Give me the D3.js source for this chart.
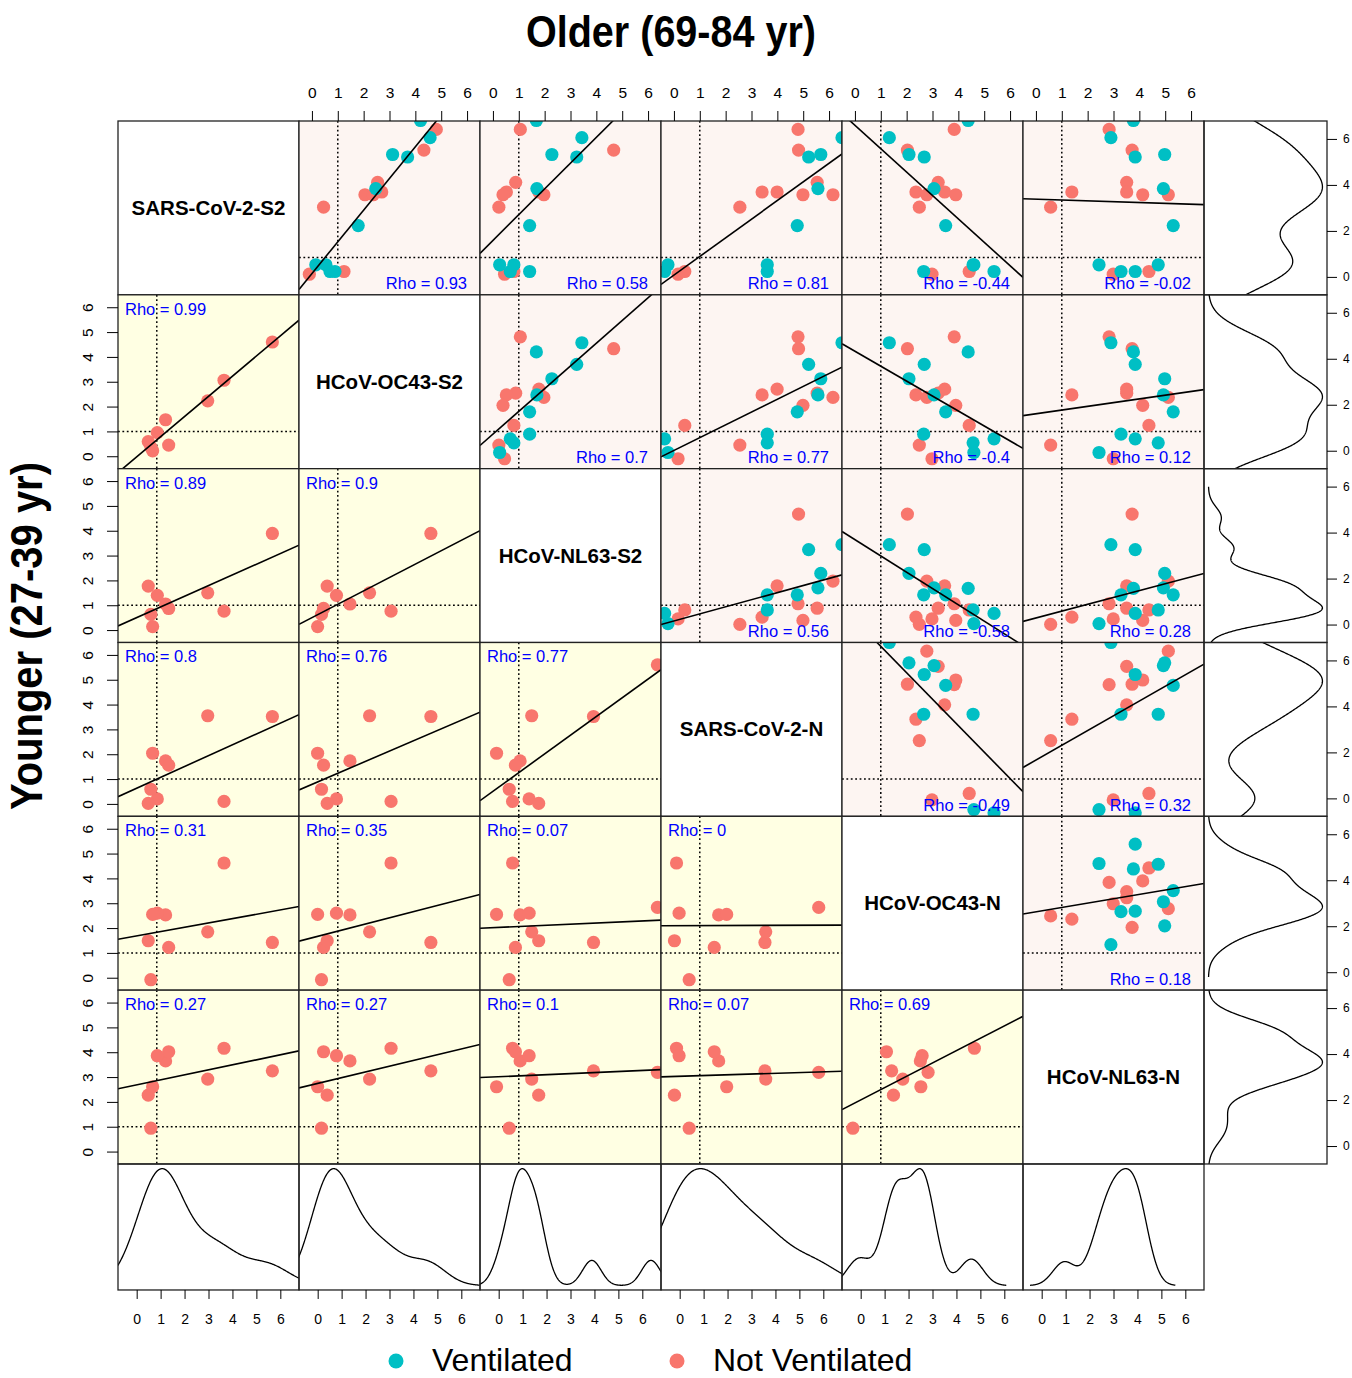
<!DOCTYPE html>
<html>
<head>
<meta charset="utf-8">
<script src="https://cdn.jsdelivr.net/npm/d3@7"></script>
<style>
  body { margin: 0; background: #fff; }
  svg text { font-family: "Liberation Sans", Arial, sans-serif; }
</style>
</head>
<body>
<div id="splom"></div>
<script>
// Variables, in panel order
const variables = ["SARS-CoV-2-S2", "HCoV-OC43-S2", "HCoV-NL63-S2", "SARS-CoV-2-N", "HCoV-OC43-N", "HCoV-NL63-N"];

// Older cohort (69-84 yr), one entry per subject, same subject order in every array
const olderGroup = ["Not Ventilated", "Ventilated", "Ventilated", "Not Ventilated", "Ventilated",
  "Ventilated", "Not Ventilated", "Ventilated", "Not Ventilated", "Not Ventilated",
  "Not Ventilated", "Not Ventilated", "Not Ventilated", "Ventilated", "Ventilated",
  "Ventilated", "Not Ventilated", "Ventilated", "Not Ventilated", "Ventilated"];
const olderSarsS2 = [6.16, 5.83, 6.52, 5.33, 5.05, 5.15, 4.03, 3.78, 3.64, 3.64, 3.53, 3.53, 3.03, 2.29, 0.71, 0.44, 0.33, 0.44, 0.44, 0.71];
const olderOc43S2 = [4.81, 4.57, 4.20, 4.33, 3.70, 3.12, 2.54, 2.47, 2.47, 2.70, 2.05, 2.37, 0.45, 1.79, 0.15, 0.70, -0.10, 0.89, 1.24, 0.54];
const olderNl63S2 = [1.06, 3.44, 1.68, 4.67, 3.24, 2.28, 0.88, 1.70, 0.52, 1.78, 0.39, 1.97, 0.23, 1.42, 0.26, 0.67, 0.45, 1.42, 0.81, 0.81];
const olderSarsN  = [4.80, 6.50, 7.00, 4.82, 5.21, 5.68, 5.54, 5.57, 3.41, 3.99, 4.99, 6.15, 2.55, 4.77, -0.23, -0.36, 0.16, 3.61, 0.42, 3.61];
const olderOc43N  = [3.84, 1.33, 4.38, 2.03, 2.68, 2.09, 3.22, 3.06, 2.36, 3.47, 3.90, 2.78, 2.49, 3.51, 4.60, 5.38, 2.98, 2.66, 4.42, 4.57];
const olderNl63N  = [2.83, 2.90, 3.77, 3.72, 3.84, 4.98, 3.51, 4.93, 1.39, 3.51, 4.13, 5.12, 0.57, 5.31, 2.44, 3.84, 2.99, 3.29, 4.37, 4.73];

// Younger cohort (27-39 yr), all not ventilated; null = not measured
const youngerSarsS2 = [5.47, 3.60, 2.97, 1.34, 1.46, 1.02, 0.67, 0.84, 0.77, null];
const youngerOc43S2 = [4.60, 3.06, 2.23, 1.47, 0.45, 0.95, 0.59, 0.22, 0.37, null];
const youngerNl63S2 = [3.89, 0.76, 1.50, 1.05, 0.87, 1.40, 1.77, 0.14, 0.63, 6.36];
const youngerSarsN  = [3.52, 0.10, 3.55, 1.73, 1.56, 0.20, 0.02, 2.04, 0.59, 5.60];
const youngerOc43N  = [1.42, 4.62, 1.85, 2.53, 1.22, 2.60, 1.49, 2.55, -0.08, 2.83];
const youngerNl63N  = [3.25, 4.16, 2.92, 3.65, 4.02, 3.86, 2.27, 2.61, 0.94, 3.19];

// Spearman rho printed in each panel [row][col]; upper = older, lower = younger
const rhoText = [
  [null, "0.93", "0.58", "0.81", "-0.44", "-0.02"],
  ["0.99", null, "0.7", "0.77", "-0.4", "0.12"],
  ["0.89", "0.9", null, "0.56", "-0.58", "0.28"],
  ["0.8", "0.76", "0.77", null, "-0.49", "0.32"],
  ["0.31", "0.35", "0.07", "0", null, "0.18"],
  ["0.27", "0.27", "0.1", "0.07", "0.69", null]
];

const axisTicks = [0, 1, 2, 3, 4, 5, 6];
const densityTicks = [0, 2, 4, 6];
const cutoff = 1;

const older = [olderSarsS2, olderOc43S2, olderNl63S2, olderSarsN, olderOc43N, olderNl63N];
const younger = [youngerSarsS2, youngerOc43S2, youngerNl63S2, youngerSarsN, youngerOc43N, youngerNl63N];
const groupColor = { "Ventilated": "#00BFC4", "Not Ventilated": "#F8766D" };

// Layout
const grid = { left: 118, top: 121, cellW: 181, cellH: 173.83 };
const densW = 123, densH = 126;
const n = variables.length;
const intFmt = d3.format("d");

const svg = d3.select("#splom").append("svg")
  .attr("width", 1352)
  .attr("height", 1378);

const xScatter = d3.scaleLinear().domain([-0.5, 6.5]).range([0, grid.cellW]);
const yScatter = d3.scaleLinear().domain([-0.5, 6.5]).range([grid.cellH, 0]);
const xDens = d3.scaleLinear().domain([-0.78, 6.78]).range([0, grid.cellW]);
const yDens = d3.scaleLinear().domain([-0.78, 6.78]).range([grid.cellH, 0]);

// Gaussian kernel density, bandwidth as R's bw.nrd0, grid to 3 bandwidths past the data
function kde(values) {
  const v = values.filter(d => d != null).sort(d3.ascending);
  const m = v.length;
  const spread = Math.min(d3.deviation(v), (d3.quantile(v, 0.75) - d3.quantile(v, 0.25)) / 1.34);
  const bw = 0.9 * spread * Math.pow(m, -0.2);
  const lo = v[0] - 3 * bw, hi = v[m - 1] + 3 * bw;
  return d3.range(512).map(k => {
    const t = lo + (hi - lo) * k / 511;
    return [t, d3.sum(v, xi => Math.exp(-0.5 * ((t - xi) / bw) ** 2)) / (m * bw * Math.sqrt(2 * Math.PI))];
  });
}

// Least squares line on the pairs present
function fitLine(xs, ys) {
  const pts = xs.map((x, k) => [x, ys[k]]).filter(p => p[0] != null && p[1] != null);
  const mx = d3.mean(pts, p => p[0]), my = d3.mean(pts, p => p[1]);
  const slope = d3.sum(pts, p => (p[0] - mx) * (p[1] - my)) / d3.sum(pts, p => (p[0] - mx) ** 2);
  return { slope, intercept: my - slope * mx };
}

function addClip(id, w, h) {
  svg.append("clipPath").attr("id", id)
    .append("rect").attr("width", w).attr("height", h);
}

// Scatter panels
for (let i = 0; i < n; i++) {
  for (let j = 0; j < n; j++) {
    const g = svg.append("g")
      .attr("transform", `translate(${grid.left + j * grid.cellW},${grid.top + i * grid.cellH})`);

    if (i === j) {
      g.append("rect").attr("width", grid.cellW).attr("height", grid.cellH).attr("fill", "#fff");
      g.append("text")
        .attr("x", grid.cellW / 2)
        .attr("y", grid.cellH / 2 + 7)
        .attr("text-anchor", "middle")
        .attr("font-size", 20.5)
        .attr("font-weight", "bold")
        .text(variables[i]);
    } else {
      const upper = i < j;
      const data = upper ? older : younger;
      const clipId = `clip-${i}-${j}`;
      addClip(clipId, grid.cellW, grid.cellH);
      const inner = g.append("g").attr("clip-path", `url(#${clipId})`);

      inner.append("rect")
        .attr("width", grid.cellW).attr("height", grid.cellH)
        .attr("fill", upper ? "#FDF5F2" : "#FFFFE3");

      // cut-off lines
      inner.append("line")
        .attr("x1", xScatter(cutoff)).attr("x2", xScatter(cutoff))
        .attr("y1", 0).attr("y2", grid.cellH)
        .attr("stroke", "#000").attr("stroke-width", 1.5).attr("stroke-dasharray", "1.8,2.6");
      inner.append("line")
        .attr("x1", 0).attr("x2", grid.cellW)
        .attr("y1", yScatter(cutoff)).attr("y2", yScatter(cutoff))
        .attr("stroke", "#000").attr("stroke-width", 1.5).attr("stroke-dasharray", "1.8,2.6");

      const pts = data[j].map((x, k) => ({
        x, y: data[i][k],
        group: upper ? olderGroup[k] : "Not Ventilated"
      })).filter(p => p.x != null && p.y != null)
        .sort((a, b) => d3.ascending(a.group === "Ventilated", b.group === "Ventilated"));

      inner.selectAll("circle")
        .data(pts)
        .join("circle")
        .attr("cx", d => xScatter(d.x))
        .attr("cy", d => yScatter(d.y))
        .attr("r", 6.6)
        .attr("fill", d => groupColor[d.group]);

      const fit = fitLine(data[j], data[i]);
      inner.append("line")
        .attr("x1", xScatter(-0.5)).attr("y1", yScatter(fit.intercept + fit.slope * -0.5))
        .attr("x2", xScatter(6.5)).attr("y2", yScatter(fit.intercept + fit.slope * 6.5))
        .attr("stroke", "#000").attr("stroke-width", 1.6);

      g.append("text")
        .attr("x", upper ? grid.cellW - 13 : 7)
        .attr("y", upper ? grid.cellH - 5.5 : 20)
        .attr("text-anchor", upper ? "end" : "start")
        .attr("font-size", 16.5)
        .attr("fill", "#0000FF")
        .text(`Rho = ${rhoText[i][j]}`);
    }

    g.append("rect")
      .attr("width", grid.cellW).attr("height", grid.cellH)
      .attr("fill", "none").attr("stroke", "#222").attr("stroke-width", 1.3);
  }
}

// Bottom densities (younger), one per column
for (let j = 0; j < n; j++) {
  const curve = kde(younger[j]);
  const [dmin, dmax] = d3.extent(curve, d => d[1]);
  const pad = (dmax - dmin) * 0.04;
  const yd = d3.scaleLinear().domain([dmin - pad, dmax + pad]).range([densH, 0]);
  const g = svg.append("g")
    .attr("transform", `translate(${grid.left + j * grid.cellW},${grid.top + n * grid.cellH})`);
  const clipId = `clip-bottom-${j}`;
  addClip(clipId, grid.cellW, densH);
  g.append("path")
    .datum(curve)
    .attr("clip-path", `url(#${clipId})`)
    .attr("fill", "none").attr("stroke", "#000").attr("stroke-width", 1.3)
    .attr("d", d3.line().x(d => xDens(d[0])).y(d => yd(d[1])));
  g.append("rect")
    .attr("width", grid.cellW).attr("height", densH)
    .attr("fill", "none").attr("stroke", "#222").attr("stroke-width", 1.3);

  g.append("g")
    .attr("transform", `translate(0,${densH})`)
    .call(d3.axisBottom(xDens).tickValues(axisTicks).tickFormat(intFmt).tickSize(9).tickPadding(15).tickSizeOuter(0))
    .call(a => a.select(".domain").remove())
    .call(a => a.selectAll("text").attr("font-size", 14).attr("font-family", null));
}

// Right densities (older), one per row
for (let i = 0; i < n; i++) {
  const curve = kde(older[i]);
  const [dmin, dmax] = d3.extent(curve, d => d[1]);
  const pad = (dmax - dmin) * 0.04;
  const xd = d3.scaleLinear().domain([dmin - pad, dmax + pad]).range([0, densW]);
  const g = svg.append("g")
    .attr("transform", `translate(${grid.left + n * grid.cellW},${grid.top + i * grid.cellH})`);
  const clipId = `clip-right-${i}`;
  addClip(clipId, densW, grid.cellH);
  g.append("path")
    .datum(curve)
    .attr("clip-path", `url(#${clipId})`)
    .attr("fill", "none").attr("stroke", "#000").attr("stroke-width", 1.3)
    .attr("d", d3.line().x(d => xd(d[1])).y(d => yDens(d[0])));
  g.append("rect")
    .attr("width", densW).attr("height", grid.cellH)
    .attr("fill", "none").attr("stroke", "#222").attr("stroke-width", 1.3);

  g.append("g")
    .attr("transform", `translate(${densW},0)`)
    .call(d3.axisRight(yDens).tickValues(densityTicks).tickFormat(intFmt).tickSize(10).tickPadding(6).tickSizeOuter(0))
    .call(a => a.select(".domain").remove())
    .call(a => a.selectAll("text").attr("font-size", 12).attr("font-family", null));
}

// Top axes (older columns)
for (let j = 1; j < n; j++) {
  svg.append("g")
    .attr("transform", `translate(${grid.left + j * grid.cellW},${grid.top})`)
    .call(d3.axisTop(xScatter).tickValues(axisTicks).tickFormat(intFmt).tickSize(10).tickPadding(13).tickSizeOuter(0))
    .call(a => a.select(".domain").remove())
    .call(a => a.selectAll("text").attr("font-size", 15.5).attr("font-family", null));
}

// Left axes (younger rows), rotated labels
for (let i = 1; i < n; i++) {
  svg.append("g")
    .attr("transform", `translate(${grid.left},${grid.top + i * grid.cellH})`)
    .call(d3.axisLeft(yScatter).tickValues(axisTicks).tickFormat(intFmt).tickSize(11).tickSizeOuter(0))
    .call(a => a.select(".domain").remove())
    .call(a => a.selectAll("text")
      .attr("x", null).attr("dy", null)
      .attr("text-anchor", "middle")
      .attr("transform", "translate(-25,0) rotate(-90)")
      .attr("font-size", 15.5).attr("font-family", null));
}

// Titles
svg.append("text")
  .attr("x", 671).attr("y", 47)
  .attr("text-anchor", "middle")
  .attr("font-size", 44).attr("font-weight", "bold")
  .attr("textLength", 290).attr("lengthAdjust", "spacingAndGlyphs")
  .text("Older (69-84 yr)");

svg.append("text")
  .attr("transform", "translate(42,636) rotate(-90)")
  .attr("text-anchor", "middle")
  .attr("font-size", 44).attr("font-weight", "bold")
  .attr("textLength", 348).attr("lengthAdjust", "spacingAndGlyphs")
  .text("Younger (27-39 yr)");

// Legend
const legend = [
  { label: "Ventilated", cx: 396, tx: 432 },
  { label: "Not Ventilated", cx: 677, tx: 713 }
];
legend.forEach(d => {
  svg.append("circle").attr("cx", d.cx).attr("cy", 1361).attr("r", 7.5).attr("fill", groupColor[d.label]);
  svg.append("text").attr("x", d.tx).attr("y", 1371).attr("font-size", 32).text(d.label);
});
</script>
</body>
</html>
